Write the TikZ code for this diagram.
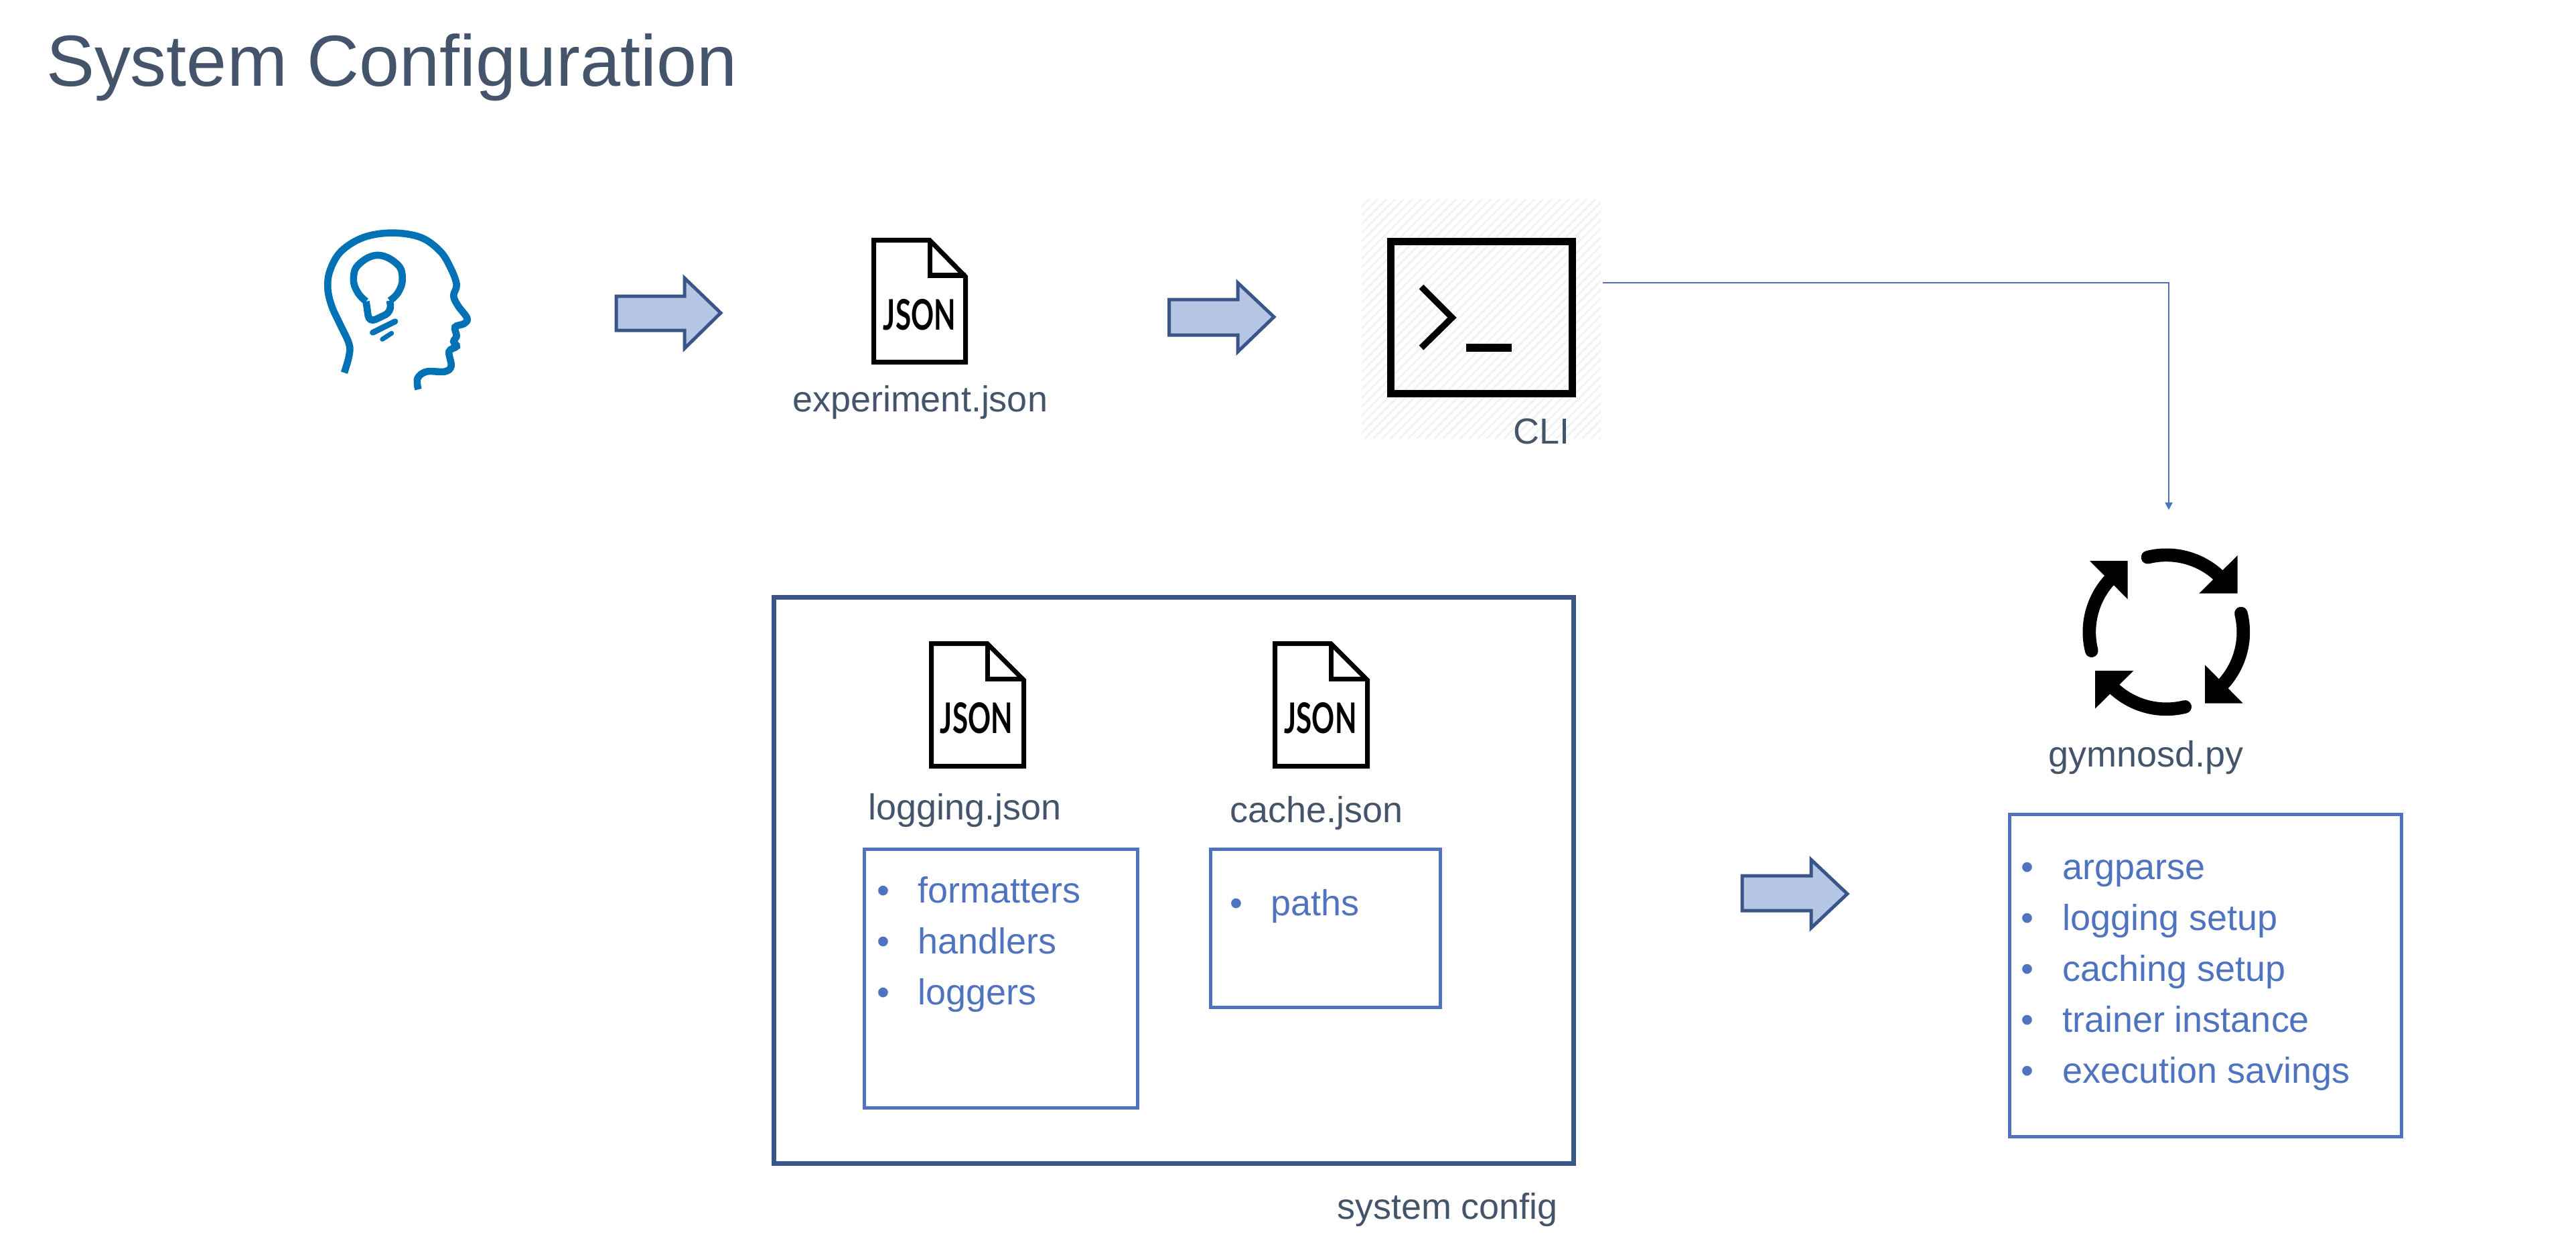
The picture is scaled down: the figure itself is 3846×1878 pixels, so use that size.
\documentclass[tikz,border=0pt]{standalone}
\usepackage{graphicx}
\usepackage{fontspec}
\setmainfont{Liberation Sans}
\newfontfamily\jsonfont{Lato}
\usetikzlibrary{arrows.meta}
\definecolor{slate}{HTML}{44546A}
\definecolor{boxblue}{HTML}{4F73BE}
\definecolor{panelblue}{HTML}{3A5689}
\definecolor{arrowfill}{HTML}{B5C6E4}
\definecolor{headblue}{HTML}{0072B5}
\definecolor{hatchgray}{HTML}{F1F1F1}
\tikzset{
  labeltext/.style={anchor=base west,inner sep=0pt,outer sep=0pt,text=slate,font=\fontsize{15.35}{18}\selectfont},
  titletext/.style={anchor=base west,inner sep=0pt,outer sep=0pt,text=slate,font=\fontsize{30.7}{36}\selectfont},
  itemtext/.style={anchor=base west,inner sep=0pt,outer sep=0pt,text=boxblue,font=\fontsize{15.35}{18}\selectfont},
  itembullet/.style={anchor=base,inner sep=0pt,outer sep=0pt,text=boxblue,font=\fontsize{15.35}{18}\selectfont},
  panelbox/.style={draw=panelblue,line width=2pt,inner sep=0pt,outer sep=0pt},
  listbox/.style={draw=boxblue,line width=1.42pt,inner sep=0pt,outer sep=0pt},
  bigarrow/.style={draw=panelblue,fill=arrowfill,line width=1.42pt,line join=miter},
  headline/.style={draw=headblue,line width=3pt},
  docline/.style={draw=black,line width=2pt,line join=miter},
  connector/.style={draw=boxblue,line width=0.6pt,-{Triangle[width=3.2pt,length=3.2pt]}},
}
\newcommand{\jsondoc}[7]{%
  \begin{scope}[shift={(#2,#3)}]
    \draw[docline] (3.5,3.5) -- (87,3.5) -- ({#4-3.5},58) -- ({#4-3.5},{#5-3.5}) -- (3.5,{#5-3.5}) -- cycle;
    \draw[docline] (87,3.5) -- (87,56) -- ({#4-3.5},56);
    \node[inner sep=0pt,outer sep=0pt] (#1) at (#6,#7) {\resizebox{1.08cm}{0.46cm}{\jsonfont\bfseries JSON}};
  \end{scope}}
\newcommand{\blockarrow}[8]{%
  \draw[bigarrow] (#1,#5) -- (#2,#5) -- (#2,#4) -- (#3,#6) -- (#2,#8) -- (#2,#7) -- (#1,#7) -- cycle;}
\newcommand{\listitem}[5]{%
  \node[itembullet] (#1b) at (#2,#4) {•};
  \node[itemtext] (#1) at (#3,#4) {#5};}
\begin{document}
\begin{tikzpicture}[x=0.01cm,y=-0.01cm]
\useasboundingbox (0,0) rectangle (3846,1878);
\fill[white] (0,0) rectangle (3846,1878);

\node[titletext] (title) at (69,128) {System Configuration};

% person with idea
\begin{scope}[shift={(420,300)},x=0.004464cm,y=-0.003333cm]
  \draw[headline] plot[smooth,tension=0.6] coordinates {
    (210,770) (226,695) (226,640) (195,550) (168,470) (155,390) (163,310) (200,225) (275,163) (370,143) (465,163) (530,225) (565,300) (585,375)
    (575,425) (590,470) (620,525) (610,550) (580,565) (585,605) (575,630) (585,652) (560,675) (567,740) (545,765) (485,765) (455,795) (457,845)};
  \draw[headline] plot[smooth,tension=0.7] coordinates {
    (283,450) (255,410) (241,350) (258,285) (322,243) (388,285) (404,350) (390,410) (362,447)};
  \draw[headline,rounded corners=3pt] (283,450) -- (293,545) -- (368,497) -- (362,447);
  \draw[headline,line width=2.5pt,line cap=round] (305,590) -- (380,540);
  \draw[headline,line width=2pt,line cap=round] (337,620) -- (368,593);
\end{scope}

\blockarrow{920}{1022}{1076}{415}{442}{467}{493}{520}

% experiment.json
\jsondoc{jsonexp}{1301}{355}{144}{189}{72}{115}
\node[labeltext] (explabel) at (1183,614) {experiment.json};

\blockarrow{1745.5}{1848}{1902}{422}{447}{473}{500}{525}

% CLI
\begin{scope}
  \clip (2033,297) rectangle (2390,655);
  \foreach \c in {2328,2341,...,3050} {
    \draw[hatchgray,line width=0.7pt] ({\c-295},295) -- ({\c-655},655);
  }
\end{scope}
\draw[line width=3pt,line join=miter] (2076.5,360.5) rectangle (2347.5,587.5);
\draw[line width=2.7pt,line join=miter] (2122,428) -- (2168,474) -- (2122,519);
\fill (2189,513) rectangle (2257,525);
\node[labeltext] (clilabel) at (2259.5,662) {CLI};

\coordinate (cliout) at (2393,422);
\coordinate (loopin) at (3238,761);
\draw[connector] (cliout) -| (loopin);

% loop icon
\foreach \r in {0,90,180,270} {
  \begin{scope}[shift={(3234.3,943.3)},rotate=\r]
    \fill (106.3,-114.3) -- (106.3,-57.7) -- (49,-57.7) -- cycle;
    \draw[line width=5.6pt,line cap=round] plot[domain=104:45,samples=24] ({115*cos(\x)},{-115*sin(\x)});
  \end{scope}
}
\node[labeltext] (loopinglabel) at (3058.5,1144) {gymnosd.py};

% system config
\node[panelbox,minimum width=11.94cm,minimum height=8.45cm] (sysbox) at (1752.5,1314) {};
\node[labeltext] (syslabel) at (1996,1819) {system config};

\jsondoc{jsonlog}{1387}{957}{145}{190}{71}{114.5}
\node[labeltext] (loglabel) at (1296.5,1223) {logging.json};
\node[listbox,minimum width=4.08cm,minimum height=3.86cm] (logbox) at (1494.5,1460.5) {};
\listitem{itfmt}{1318.6}{1370.5}{1347.5}{formatters}
\listitem{ithnd}{1318.6}{1370.5}{1423.5}{handlers}
\listitem{itlog}{1318.6}{1370.5}{1499.5}{loggers}

\jsondoc{jsoncache}{1900}{957}{145}{190}{71.6}{115}
\node[labeltext] (cachelabel) at (1836,1227.5) {cache.json};
\node[listbox,minimum width=3.43cm,minimum height=2.36cm] (cachebox) at (1979,1385.5) {};
\listitem{itpth}{1845.7}{1897}{1366}{paths}

\blockarrow{2601}{2704}{2758}{1283}{1307}{1334}{1359}{1385}

% gymnosd list
\node[listbox,minimum width=5.85cm,minimum height=4.80cm] (gymbox) at (3293,1456) {};
\listitem{itarg}{3027}{3079}{1312.5}{argparse}
\listitem{itlgs}{3027}{3079}{1388.5}{logging setup}
\listitem{itcch}{3027}{3079}{1464.5}{caching setup}
\listitem{ittrn}{3027}{3079}{1540.5}{trainer instance}
\listitem{itexe}{3027}{3079}{1616}{execution savings}
\end{tikzpicture}
\end{document}
